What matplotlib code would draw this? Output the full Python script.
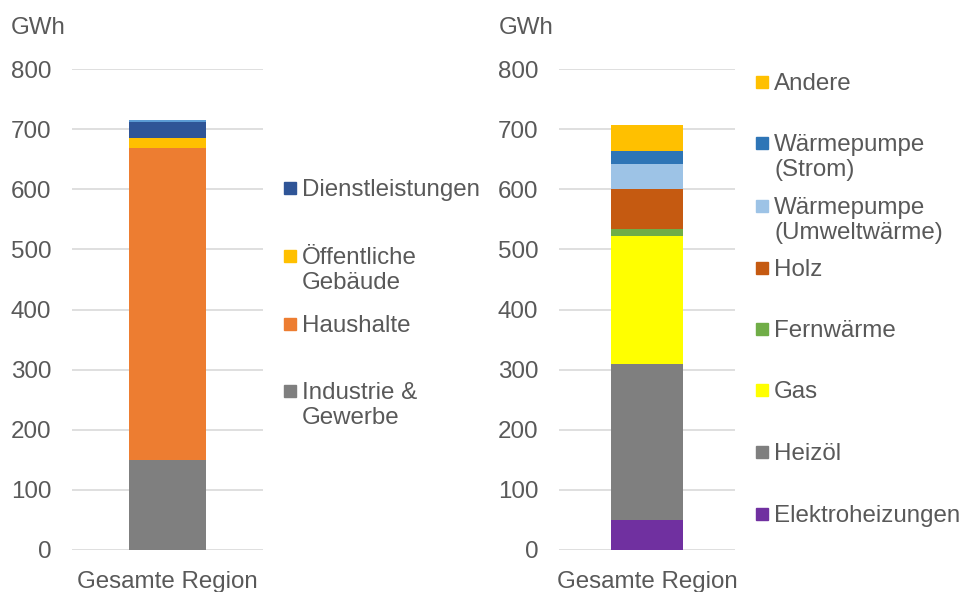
import matplotlib
matplotlib.use("Agg")
import matplotlib.pyplot as plt
from matplotlib.patches import Rectangle

plt.rcParams['font.family'] = ['Liberation Sans', 'DejaVu Sans']

TEXT = '#595959'
GRID = '#D9D9D9'
FS = 17.4

category = ['Gesamte Region']

# Verbrauch nach Sektor (GWh), von unten nach oben gestapelt
sektor_labels = ['Industrie &\nGewerbe', 'Haushalte', 'Öffentliche\nGebäude', 'Dienstleistungen', None]
sektor_values = [150, 519, 17, 26, 3.5]
sektor_colors = ['#7F7F7F', '#ED7D31', '#FFC000', '#2F5597', '#5B9BD5']

# Wärmeverbrauch nach Energieträger (GWh), von unten nach oben gestapelt
traeger_labels = ['Elektroheizungen', 'Heizöl', 'Gas', 'Fernwärme', 'Holz',
                  'Wärmepumpe\n(Umweltwärme)', 'Wärmepumpe\n(Strom)', 'Andere']
traeger_values = [50, 259.5, 213, 11.5, 66.5, 41.5, 22, 43]
traeger_colors = ['#7030A0', '#7F7F7F', '#FFFF00', '#70AD47', '#C55A11',
                  '#9DC3E6', '#2E75B6', '#FFC000']

yticks = [0, 100, 200, 300, 400, 500, 600, 700, 800]

W, H = 960, 592
fig = plt.figure(figsize=(W / 100, H / 100), dpi=100)


def px_axes(x0, x1, ytop, ybot):
    return fig.add_axes([x0 / W, 1 - ybot / H, (x1 - x0) / W, (ybot - ytop) / H])


def stacked(ax, values, colors, width):
    bottom = 0
    for v, c in zip(values, colors):
        ax.bar(category, [v], bottom=bottom, width=width, color=c, zorder=3)
        bottom += v
    ax.set_ylim(0, 800)
    ax.set_xlim(-0.5, 0.5)
    ax.set_yticks(yticks)
    ax.yaxis.grid(True, color=GRID, linewidth=1.2, zorder=0)
    for s in ax.spines.values():
        s.set_visible(False)
    ax.tick_params(axis='both', length=0, labelsize=FS, labelcolor=TEXT)
    ax.tick_params(axis='y', pad=15)
    ax.tick_params(axis='x', pad=15)


def legend(labels, colors, xsq, ys):
    for lab, c, y in zip(labels, colors, ys):
        if lab is None:
            continue
        fig.patches.append(Rectangle((xsq / W, 1 - (y + 6) / H), 12 / W, 12 / H,
                                     transform=fig.transFigure, color=c))
        fig.text((xsq + 18) / W, 1 - (y - 9) / H, lab, fontsize=FS, color=TEXT,
                 va='top', ha='left', linespacing=1.2)


ax1 = px_axes(72, 263, 69, 550)
stacked(ax1, sektor_values, sektor_colors, 0.40)
fig.text(11 / W, 1 - 28 / H, 'GWh', fontsize=FS, color=TEXT, va='center', ha='left')
legend(sektor_labels, sektor_colors, 284, [391, 324, 256, 188, None])

ax2 = px_axes(559, 735, 69, 550)
stacked(ax2, traeger_values, traeger_colors, 0.41)
fig.text(499 / W, 1 - 28 / H, 'GWh', fontsize=FS, color=TEXT, va='center', ha='left')
legend(traeger_labels, traeger_colors, 756, [514, 452, 390, 329, 268, 206, 143, 82])

fig.savefig('out.png', dpi=100)
